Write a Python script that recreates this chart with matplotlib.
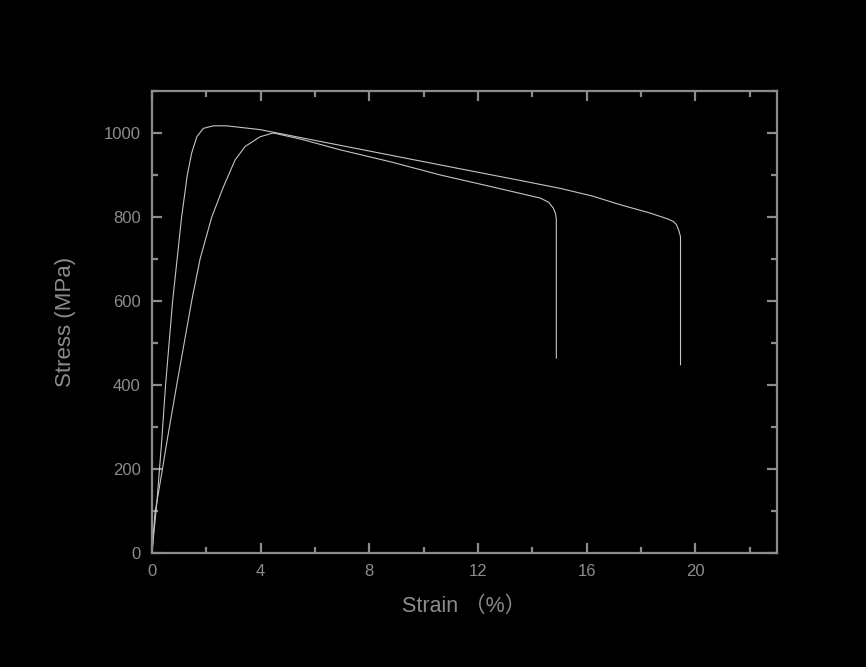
import numpy as np
import matplotlib
matplotlib.use("Agg")
import matplotlib.pyplot as plt
from matplotlib.ticker import MultipleLocator

# curve with steep elastic part, breaks near 19.4 %
strain_a = [0, 0.08, 0.18, 0.36, 0.50, 0.76, 1.09, 1.30, 1.46, 1.65, 1.89,
            2.26, 2.75, 3.98, 5.0, 8.0, 11.0, 13.55, 15.03, 16.2,
            17.24, 18.3, 19.0, 19.19, 19.30, 19.38, 19.43, 19.45, 19.45]
stress_a = [0, 55, 120, 269, 400, 600, 800, 900, 952, 991, 1011,
            1017, 1017, 1008, 995, 957, 919, 887, 868, 850,
            829, 810, 795, 789, 782, 769, 758, 752, 448]

# curve with softer elastic part, breaks near 14.9 %
strain_b = [0, 0.11, 0.38, 0.56, 0.91, 1.46, 1.77, 2.20, 2.63, 3.06, 3.43,
            3.98, 4.46, 5.5, 6.92, 8.8, 10.61, 12.5, 14.29, 14.6, 14.77,
            14.85, 14.88, 14.88]
stress_b = [0, 95, 198, 269, 400, 600, 700, 800, 872, 936, 968,
            991, 1000, 985, 960, 931, 900, 872, 845, 835, 821,
            808, 795, 464]

x_ticks = [0, 4, 8, 12, 16, 20]
y_ticks = [0, 200, 400, 600, 800, 1000]

grey = '#8c8c8c'
line_col = '#c4c4c4'

fig = plt.figure(figsize=(8.66, 6.67), dpi=100, facecolor='black')
ax = fig.add_axes([0.1755, 0.1709, 0.7217, 0.6927], facecolor='black')

ax.plot(strain_a, stress_a, color=line_col, lw=0.8)
ax.plot(strain_b, stress_b, color=line_col, lw=0.8)

ax.set_xlim(0, 23)
ax.set_ylim(0, 1100)
ax.set_xticks(x_ticks)
ax.set_yticks(y_ticks)
ax.xaxis.set_minor_locator(MultipleLocator(2))
ax.yaxis.set_minor_locator(MultipleLocator(100))

for s in ax.spines.values():
    s.set_color(grey)
    s.set_linewidth(1.6)

ax.tick_params(which='both', direction='in', top=True, right=True,
               color=grey, width=1.6, labelcolor=grey, labelsize=12, pad=8)
ax.tick_params(which='major', length=7.5)
ax.tick_params(which='minor', length=4)
for lab in ax.get_xticklabels() + ax.get_yticklabels():
    lab.set_family(['Liberation Sans', 'DejaVu Sans'])

ax.set_xlabel('Strain （%）', color=grey, fontsize=15.5,
              family=['Liberation Sans', 'Noto Sans CJK SC'], labelpad=12)
ax.set_ylabel('Stress (MPa)', color=grey, fontsize=16,
              family=['Liberation Sans', 'DejaVu Sans'], labelpad=20)

fig.savefig('out.png', dpi=100, facecolor='black')
